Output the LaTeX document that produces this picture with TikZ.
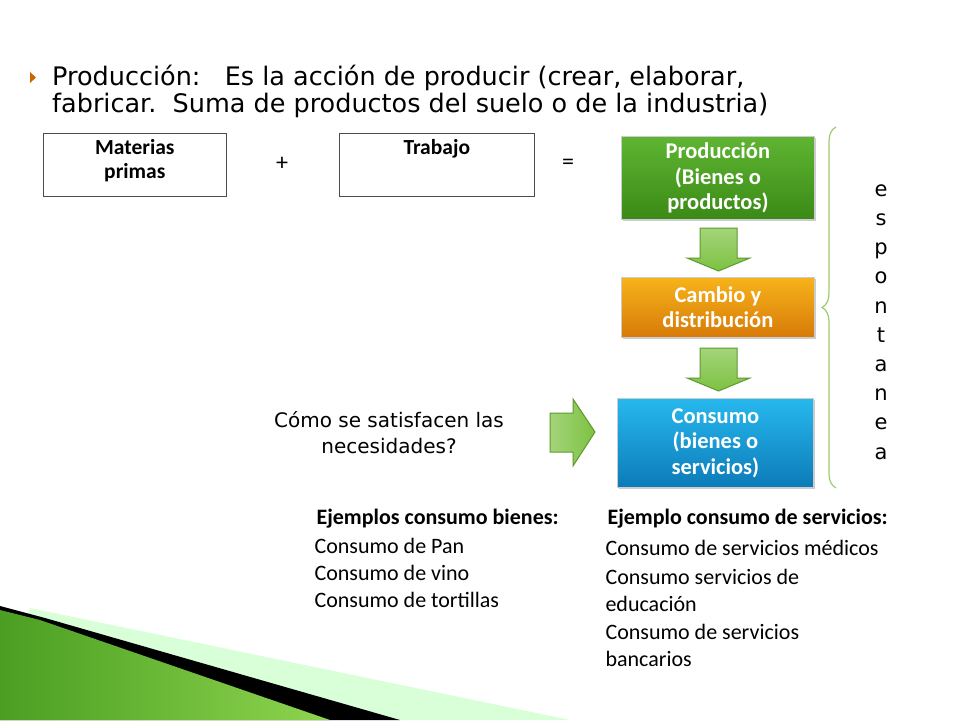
\documentclass[tikz,border=0pt]{standalone}
\usepackage{fontspec}
\setmainfont{Carlito}
\newfontfamily\titlefont{DejaVu Sans}
\usetikzlibrary{shadows,decorations.pathreplacing}
\definecolor{gA}{HTML}{5FB532}\definecolor{gB}{HTML}{3A8A16}
\definecolor{oA}{HTML}{F7B31A}\definecolor{oB}{HTML}{D77A08}
\definecolor{bA}{HTML}{27B8EE}\definecolor{bB}{HTML}{0C7BB8}
\definecolor{arr}{HTML}{7DC242}\definecolor{arrD}{HTML}{5E9A2E}
\definecolor{brc}{HTML}{9CCB6E}
\definecolor{decA}{HTML}{4A9E22}\definecolor{decB}{HTML}{8ED54E}
\tikzset{
 plain/.style={draw=black!70,line width=0.6pt,minimum width=183pt,minimum height=63pt,anchor=north west},
 boxtext/.style={font=\fontsize{21.5}{24}\selectfont\bfseries,align=center},
 fancy/.style={minimum width=193pt,anchor=north west,text=white,font=\fontsize{22.5}{25.5}\selectfont\bfseries,align=center,drop shadow={opacity=0.4,shadow xshift=2pt,shadow yshift=-2pt},draw=white!80!black,line width=0.8pt},
 bigarrow/.style={draw=arrD,line width=1pt,top color=arr!70!white,bottom color=arr,line join=miter},
 body/.style={font=\fontsize{22}{27}\selectfont,anchor=west}
}
\begin{document}
\begin{tikzpicture}[x=1pt,y=-1pt]
\useasboundingbox (0,0) rectangle (960,720);
% decoration
\fill[green!25!white,opacity=0.6] (30,608) -- (570,720) -- (0,720) -- cycle;
\fill[black] (45,618) -- (400,720) -- (0,720) -- (0,606) -- cycle;
\shade[left color=decA,right color=decB] (0,610) -- (40,620) -- (330,720) -- (0,720) -- cycle;
% title
\fill[orange!80!black] (30,72) -- (36,77.5) -- (30,83) -- cycle;
\node[anchor=west,font=\titlefont\fontsize{25.5}{27}\selectfont,align=left,inner sep=0] (title) at (52,91)
 {Producción:\ \ \ Es la acción de producir (crear, elaborar,\\fabricar.\ \ Suma de productos del suelo o de la industria)};
% top boxes
\node[plain] (mp) at (43,133) {};
\node[boxtext,anchor=north] (mpt) at (mp.north) [yshift=-3pt] {Materias\\primas};
\node[font=\fontsize{24}{24}\selectfont] (plus) at (282,164) {+};
\node[plain,minimum width=195pt] (tr) at (339,133) {};
\node[boxtext,anchor=north] (trt) at (tr.north) [yshift=-3pt] {Trabajo};
\node[font=\fontsize{24}{24}\selectfont] (eq) at (568,164) {=};
% colored boxes
\node[fancy,minimum height=83pt,top color=gA,bottom color=gB] (prod) at (621,136) {Producción\\(Bienes o\\productos)};
\node[fancy,minimum height=60pt,top color=oA,bottom color=oB] (camb) at (621,277) {Cambio y\\distribución};
\node[fancy,minimum height=89pt,minimum width=196pt,top color=bA,bottom color=bB] (cons) at (617,398) {Consumo\\(bienes o\\servicios)};
% arrows
\draw[bigarrow] (700,228) -- (737,228) -- (737,258) -- (750,258) -- (718.5,271) -- (687,258) -- (700,258) -- cycle;
\draw[bigarrow] (700,348) -- (737,348) -- (737,378) -- (750,378) -- (718.5,391) -- (687,378) -- (700,378) -- cycle;
\draw[bigarrow,left color=arr!70!white,right color=arr] (550,413) -- (573,413) -- (573,399) -- (595,432) -- (573,466) -- (573,452) -- (550,452) -- cycle;
% brace
\draw[brc,line width=1.2pt,decorate,decoration={brace,amplitude=14pt}] (836,488) -- (836,127);
\node[font=\titlefont\fontsize{21}{29.2}\selectfont,align=center,anchor=north] (esp) at (881,181) {e\\s\\p\\o\\n\\t\\a\\n\\e\\a};
% question
\node[font=\titlefont\fontsize{20}{26}\selectfont,align=center] (q) at (389,433) {Cómo se satisfacen las\\necesidades?};
% examples
\node[body,font=\fontsize{22}{27}\selectfont\bfseries] (eb) at (313,519) {Ejemplos consumo bienes:};
\node[body] (e1) at (311,546) {Consumo de Pan};
\node[body] (e2) at (311,573) {Consumo de vino};
\node[body] (e3) at (311,600) {Consumo de tortillas};
\node[body,font=\fontsize{22}{27}\selectfont\bfseries] (es) at (604,519) {Ejemplo consumo de servicios:};
\node[body] (s1) at (602,548) {Consumo de servicios médicos};
\node[body,align=left] (s2) at (602,590) {Consumo servicios de\\educación};
\node[body,align=left] (s3) at (602,645) {Consumo de servicios\\bancarios};
\end{tikzpicture}
\end{document}
